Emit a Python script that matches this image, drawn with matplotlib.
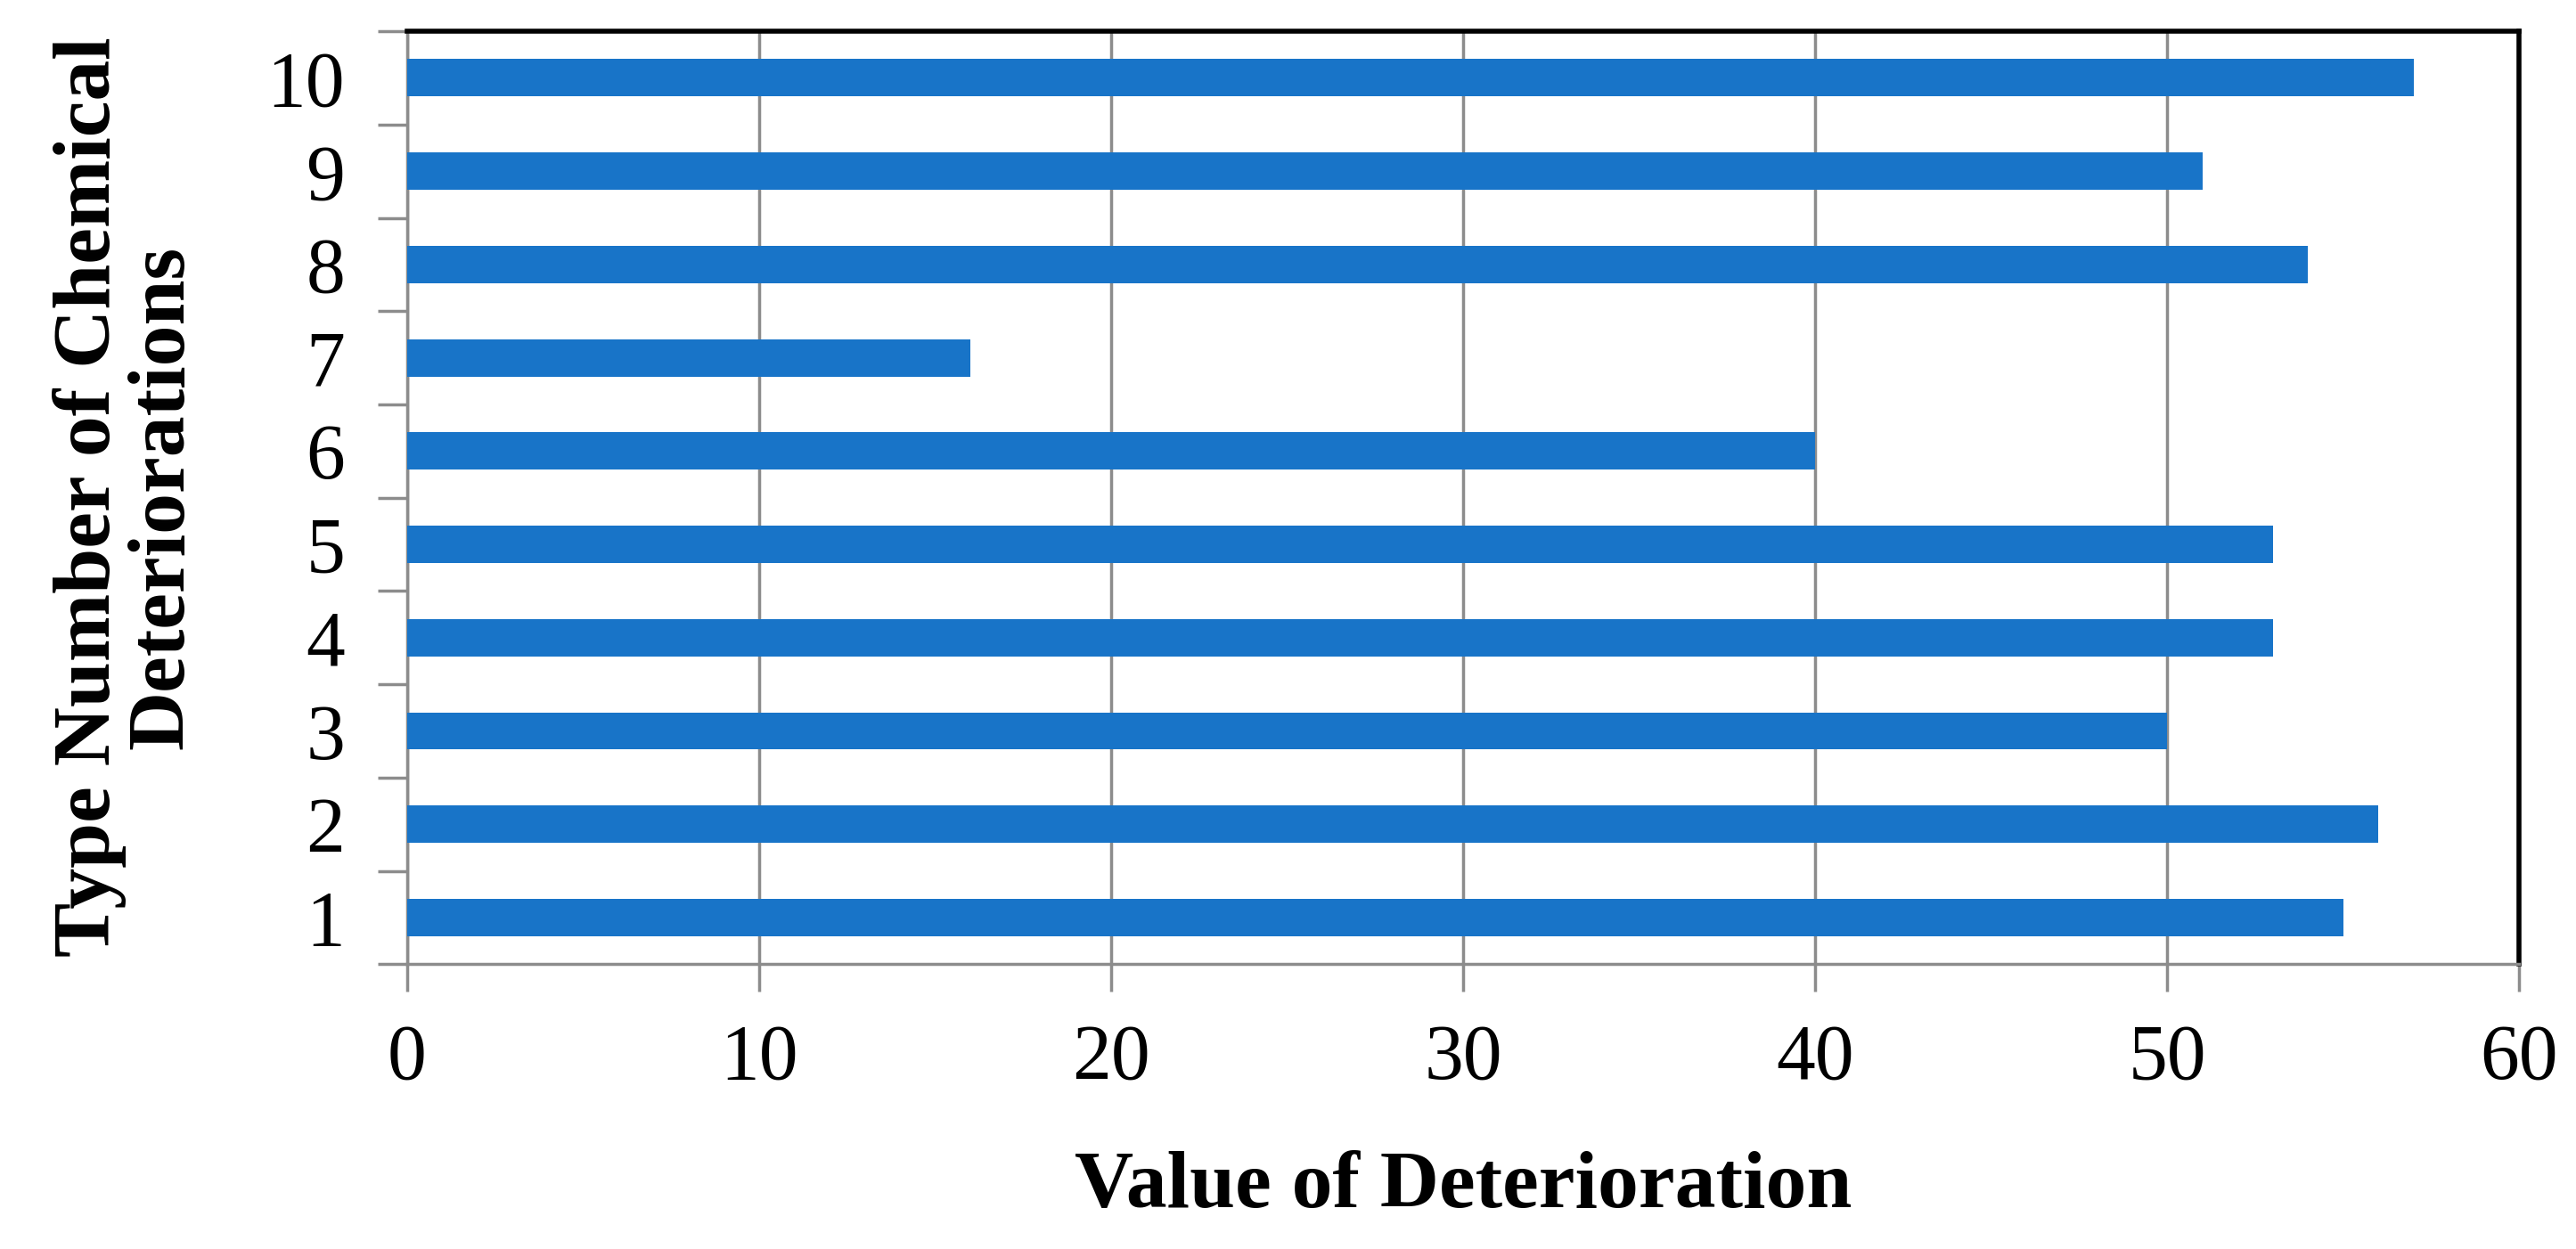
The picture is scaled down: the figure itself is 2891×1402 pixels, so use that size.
import matplotlib
matplotlib.use("Agg")
import matplotlib.pyplot as plt
import numpy as np

# chart data
types = [1, 2, 3, 4, 5, 6, 7, 8, 9, 10]
values = [55, 56, 50, 53, 53, 40, 16, 54, 51, 57]
xticks = [0, 10, 20, 30, 40, 50, 60]

bar_color = "#1874C8"
grey = "#8C8C8C"

plt.rcParams['font.family'] = ['Liberation Serif', 'DejaVu Serif']

fig = plt.figure(figsize=(28.91, 14.02), dpi=100)
ax = fig.add_axes([0.158, 0.228, 0.820, 0.747])

ax.barh(types, values, height=0.4, color=bar_color, zorder=3)

ax.set_xlim(0, 60)
ax.set_ylim(0.5, 10.5)
ax.set_xticks(xticks)
ax.set_yticks(types)
ax.set_yticks(np.arange(0.5, 11, 1), minor=True)

ax.grid(axis="x", color=grey, linewidth=2.5, zorder=0)

# spines: grey left/bottom, black top/right
ax.spines["left"].set_color(grey)
ax.spines["bottom"].set_color(grey)
ax.spines["left"].set_linewidth(2.5)
ax.spines["bottom"].set_linewidth(2.5)
ax.spines["top"].set_color("black")
ax.spines["right"].set_color("black")
ax.spines["top"].set_linewidth(4)
ax.spines["right"].set_linewidth(4)

ax.tick_params(axis="x", which="major", direction="out", length=22, width=2.5,
               color=grey, pad=26, labelsize=63)
ax.tick_params(axis="y", which="major", length=0, pad=50, labelsize=63)
ax.tick_params(axis="y", which="minor", direction="out", length=24, width=2.5,
               color=grey)

fig.text(0.049, 0.602, "Type Number of Chemical\nDeteriorations", rotation=90,
         ha="center", va="center", fontsize=66, fontweight="bold", linespacing=1.0)
fig.text(0.568, 0.049, "Value of Deterioration", ha="center", va="center",
         fontsize=66, fontweight="bold")

fig.savefig("out.png", dpi=100)
